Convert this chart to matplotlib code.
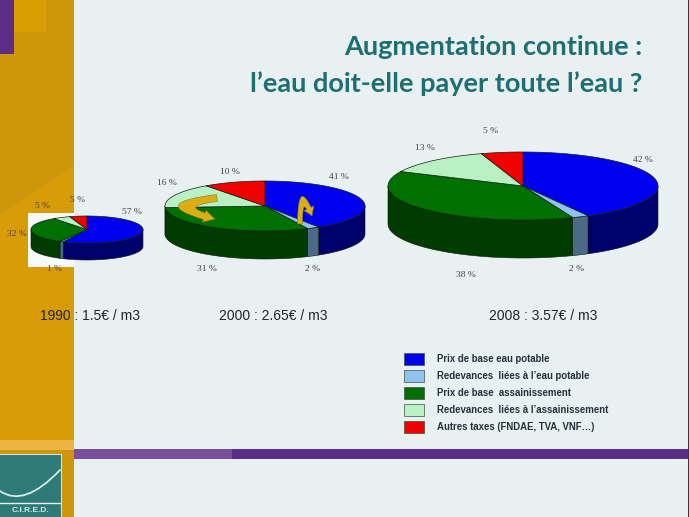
import numpy as np
import matplotlib
matplotlib.use('Agg')
import matplotlib.pyplot as plt
from matplotlib.patches import Rectangle, Polygon, FancyArrowPatch
from matplotlib.path import Path

# Data
years = ['1990 : 1.5€ / m3', '2000 : 2.65€ / m3', '2008 : 3.57€ / m3']
shares_1990 = [57, 1, 32, 5, 5]
shares_2000 = [41, 2, 31, 16, 10]
shares_2008 = [42, 2, 38, 13, 5]
categories = ['Prix de base eau potable',
              'Redevances  liées à l’eau potable',
              'Prix de base  assainissement',
              'Redevances  liées à l’assainissement',
              'Autres taxes (FNDAE, TVA, VNF…)']
top_colors = ['#0000F0', '#8FC2EE', '#007000', '#B9F0C4', '#F00000']
side_colors = ['#00006C', '#4A6A88', '#003C00', '#6E9070', '#800000']

BG = '#E9F0F1'
ORANGE = '#CE960A'
PURPLE = '#5C2D87'
TEAL = '#2E7A78'

fig = plt.figure(figsize=(6.89, 5.17), dpi=100, facecolor=BG)
ax = fig.add_axes([0, 0, 1, 1])
ax.set_xlim(0, 689)
ax.set_ylim(517, 0)
ax.axis('off')


def ellipse_pts(cx, cy, rx, ry, a0, a1):
    # angles in degrees, clockwise from 12 o'clock
    a = np.radians(np.linspace(a0, a1, 80))
    return np.column_stack([cx + rx * np.sin(a), cy - ry * np.cos(a)])


def draw_pie(shares, cx, cy, rx, ry, depth, label_pos):
    edges = np.cumsum([0] + shares) / sum(shares) * 360
    # front wall first, only the part facing the viewer
    for i in range(len(shares)):
        a0, a1 = max(edges[i], 90), min(edges[i + 1], 270)
        if a1 <= a0:
            continue
        top = ellipse_pts(cx, cy, rx, ry, a0, a1)
        bottom = top[::-1] + [0, depth]
        ax.add_patch(Polygon(np.vstack([top, bottom]), closed=True, fc=side_colors[i],
                             ec='#101810', lw=0.4, zorder=3))
    for i in range(len(shares)):
        arc = ellipse_pts(cx, cy, rx, ry, edges[i], edges[i + 1])
        ax.add_patch(Polygon(np.vstack([[cx, cy], arc]), closed=True, fc=top_colors[i],
                             ec='#102010', lw=0.5, zorder=4))
    for s, (x, y) in zip(shares, label_pos):
        ax.text(x, y, f'{s} %', ha='center', va='center', fontsize=6.8,
                family='Liberation Serif', color='#3C4448', zorder=6)


# Left band and slide decoration
ax.add_patch(Rectangle((0, 0), 74, 517, fc=ORANGE, ec='none', zorder=1))
ax.add_patch(Rectangle((14, 0), 32, 32, fc='#DB9E02', ec='none', zorder=1))
ax.add_patch(Polygon([[0, 215], [74, 165], [74, 440], [0, 440]], closed=True, fc='#D89C08', ec='none', zorder=1))
ax.add_patch(Rectangle((0, 0), 14, 54, fc=PURPLE, ec='none', zorder=2))
ax.add_patch(Rectangle((0, 440), 74, 10, fc='#EDB343', ec='none', zorder=2))
ax.add_patch(Rectangle((74, 449), 158, 9.5, fc='#7A4E99', ec='none', zorder=2))
ax.add_patch(Rectangle((232, 449), 457, 9.5, fc=PURPLE, ec='none', zorder=2))
ax.add_patch(Rectangle((687.5, 0), 1.5, 517, fc='#30383C', ec='none', zorder=2))

# Logo
ax.add_patch(Rectangle((0, 454), 60.5, 63, fc=TEAL, ec='none', zorder=2))
ax.plot([0, 60.5], [453.8, 453.8], color='#CFE4E0', lw=0.8, zorder=3)
ax.plot([60.5, 60.5], [454, 517], color='#CFE4E0', lw=0.8, zorder=3)
ax.plot([0, 60.5], [503, 503], color='#E4F0EE', lw=1.0, zorder=3)
ax.add_patch(FancyArrowPatch(path=Path([(0, 491), (24, 508), (60, 470)],
                                       [Path.MOVETO, Path.CURVE3, Path.CURVE3]),
                             arrowstyle='-', color='#D8ECE6', lw=1.3, zorder=3))
ax.text(30, 510.5, 'C.I.R.E.D.', ha='center', va='center', fontsize=6, color='#D8ECE6',
        family='Liberation Sans', fontweight='bold', zorder=3)

# White patch behind the 1990 pie
ax.add_patch(Rectangle((28, 213), 46, 54, fc='#F8FAFA', ec='none', zorder=2))

# Title
ax.text(642, 47, 'Augmentation continue :', ha='right', va='center', fontsize=19.5,
        family='Lato', fontweight='bold', color='#1F6E70')
ax.text(642, 84, 'l’eau doit-elle payer toute l’eau ?', ha='right', va='center', fontsize=19.5,
        family='Lato', fontweight='bold', color='#1F6E70')

# Pies
draw_pie(shares_1990, 87, 229.5, 56, 13.5, 17,
         [(132, 212), (55, 269), (17, 234.5), (43, 205.5), (78, 200)])
draw_pie(shares_2000, 265, 206, 100, 25, 28,
         [(339, 177), (313, 269), (207, 269), (167, 183), (230, 171.5)])
draw_pie(shares_2008, 523, 186, 135, 34, 38,
         [(643, 160), (577, 269), (466, 275), (425, 148), (491, 131)])

# Yellow arrows on the 2000 pie
ax.add_patch(FancyArrowPatch(path=Path([(217, 198), (158, 205), (215, 219)],
                                       [Path.MOVETO, Path.CURVE3, Path.CURVE3]),
                             arrowstyle='simple,head_length=8,head_width=9,tail_width=5',
                             fc='#DDAE14', ec='#6E7A30', lw=0.4, zorder=5))
ax.add_patch(FancyArrowPatch(path=Path([(300, 224), (300, 184), (312, 216)],
                                       [Path.MOVETO, Path.CURVE3, Path.CURVE3]),
                             arrowstyle='simple,head_length=6,head_width=8,tail_width=3.5',
                             fc='#DDAE14', ec='#6E7A30', lw=0.4, zorder=5))

# Captions
for txt, x, y in zip(years, [90, 273.5, 543], [316, 316, 316.5]):
    ax.text(x, y, txt, ha='center', va='center', fontsize=10, family='Liberation Sans',
            color='#20262A', zorder=6)

# Legend
for i, cat in enumerate(categories):
    y = 358.5 + i * 17.1
    ax.add_patch(Rectangle((404, y - 6), 20, 12, fc=top_colors[i], ec='#405040', lw=0.5, zorder=4))
    ax.text(437, y, cat, ha='left', va='center', fontsize=6.9, family='Liberation Sans',
            fontweight='bold', color='#26303A', zorder=6)

fig.savefig('out.png', dpi=100, facecolor=BG)
